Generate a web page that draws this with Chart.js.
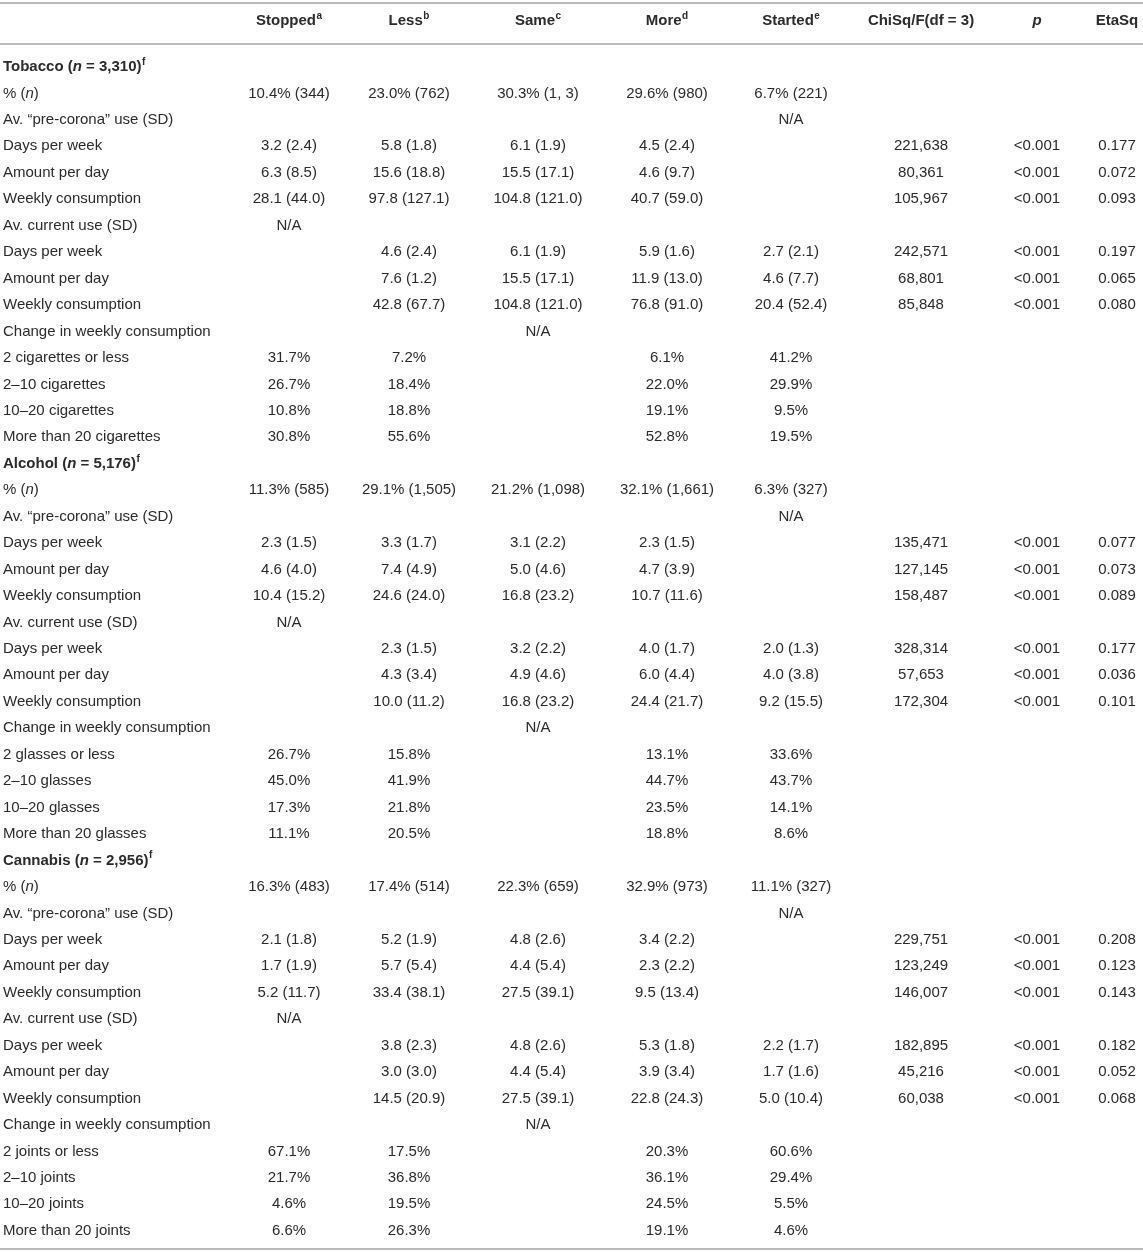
<!DOCTYPE html>
<html lang="en">

<head>
    <meta charset="UTF-8" />
    <title>Change in substance use</title>
    <script src="https://cdn.jsdelivr.net/npm/chart.js"></script>
    <style>
        body {
            margin: 0;
            background: #fff;
        }

        #wrap {
            width: 1143px;
            height: 1253px;
        }
    </style>
</head>

<body>
    <div id="wrap"><canvas id="tableChart" width="1143" height="1253"></canvas></div>

    <script>
        // markup: _x_ = italic, ^x = superscript character
        const columnHeads = ['Stopped^a', 'Less^b', 'Same^c', 'More^d', 'Started^e', 'ChiSq/F(df = 3)', '_p_', 'EtaSq'];

        const tobaccoLabels = ['Tobacco (_n_ = 3,310)^f', '% (_n_)', 'Av. “pre-corona” use (SD)', 'Days per week', 'Amount per day',
            'Weekly consumption', 'Av. current use (SD)', 'Days per week', 'Amount per day', 'Weekly consumption',
            'Change in weekly consumption', '2 cigarettes or less', '2–10 cigarettes', '10–20 cigarettes', 'More than 20 cigarettes'];
        const tobaccoCells = [
            ['', '', '', '', '', '', '', ''],
            ['10.4% (344)', '23.0% (762)', '30.3% (1, 3)', '29.6% (980)', '6.7% (221)', '', '', ''],
            ['', '', '', '', 'N/A', '', '', ''],
            ['3.2 (2.4)', '5.8 (1.8)', '6.1 (1.9)', '4.5 (2.4)', '', '221,638', '<0.001', '0.177'],
            ['6.3 (8.5)', '15.6 (18.8)', '15.5 (17.1)', '4.6 (9.7)', '', '80,361', '<0.001', '0.072'],
            ['28.1 (44.0)', '97.8 (127.1)', '104.8 (121.0)', '40.7 (59.0)', '', '105,967', '<0.001', '0.093'],
            ['N/A', '', '', '', '', '', '', ''],
            ['', '4.6 (2.4)', '6.1 (1.9)', '5.9 (1.6)', '2.7 (2.1)', '242,571', '<0.001', '0.197'],
            ['', '7.6 (1.2)', '15.5 (17.1)', '11.9 (13.0)', '4.6 (7.7)', '68,801', '<0.001', '0.065'],
            ['', '42.8 (67.7)', '104.8 (121.0)', '76.8 (91.0)', '20.4 (52.4)', '85,848', '<0.001', '0.080'],
            ['', '', 'N/A', '', '', '', '', ''],
            ['31.7%', '7.2%', '', '6.1%', '41.2%', '', '', ''],
            ['26.7%', '18.4%', '', '22.0%', '29.9%', '', '', ''],
            ['10.8%', '18.8%', '', '19.1%', '9.5%', '', '', ''],
            ['30.8%', '55.6%', '', '52.8%', '19.5%', '', '', '']
        ];

        const alcoholLabels = ['Alcohol (_n_ = 5,176)^f', '% (_n_)', 'Av. “pre-corona” use (SD)', 'Days per week', 'Amount per day',
            'Weekly consumption', 'Av. current use (SD)', 'Days per week', 'Amount per day', 'Weekly consumption',
            'Change in weekly consumption', '2 glasses or less', '2–10 glasses', '10–20 glasses', 'More than 20 glasses'];
        const alcoholCells = [
            ['', '', '', '', '', '', '', ''],
            ['11.3% (585)', '29.1% (1,505)', '21.2% (1,098)', '32.1% (1,661)', '6.3% (327)', '', '', ''],
            ['', '', '', '', 'N/A', '', '', ''],
            ['2.3 (1.5)', '3.3 (1.7)', '3.1 (2.2)', '2.3 (1.5)', '', '135,471', '<0.001', '0.077'],
            ['4.6 (4.0)', '7.4 (4.9)', '5.0 (4.6)', '4.7 (3.9)', '', '127,145', '<0.001', '0.073'],
            ['10.4 (15.2)', '24.6 (24.0)', '16.8 (23.2)', '10.7 (11.6)', '', '158,487', '<0.001', '0.089'],
            ['N/A', '', '', '', '', '', '', ''],
            ['', '2.3 (1.5)', '3.2 (2.2)', '4.0 (1.7)', '2.0 (1.3)', '328,314', '<0.001', '0.177'],
            ['', '4.3 (3.4)', '4.9 (4.6)', '6.0 (4.4)', '4.0 (3.8)', '57,653', '<0.001', '0.036'],
            ['', '10.0 (11.2)', '16.8 (23.2)', '24.4 (21.7)', '9.2 (15.5)', '172,304', '<0.001', '0.101'],
            ['', '', 'N/A', '', '', '', '', ''],
            ['26.7%', '15.8%', '', '13.1%', '33.6%', '', '', ''],
            ['45.0%', '41.9%', '', '44.7%', '43.7%', '', '', ''],
            ['17.3%', '21.8%', '', '23.5%', '14.1%', '', '', ''],
            ['11.1%', '20.5%', '', '18.8%', '8.6%', '', '', '']
        ];

        const cannabisLabels = ['Cannabis (_n_ = 2,956)^f', '% (_n_)', 'Av. “pre-corona” use (SD)', 'Days per week', 'Amount per day',
            'Weekly consumption', 'Av. current use (SD)', 'Days per week', 'Amount per day', 'Weekly consumption',
            'Change in weekly consumption', '2 joints or less', '2–10 joints', '10–20 joints', 'More than 20 joints'];
        const cannabisCells = [
            ['', '', '', '', '', '', '', ''],
            ['16.3% (483)', '17.4% (514)', '22.3% (659)', '32.9% (973)', '11.1% (327)', '', '', ''],
            ['', '', '', '', 'N/A', '', '', ''],
            ['2.1 (1.8)', '5.2 (1.9)', '4.8 (2.6)', '3.4 (2.2)', '', '229,751', '<0.001', '0.208'],
            ['1.7 (1.9)', '5.7 (5.4)', '4.4 (5.4)', '2.3 (2.2)', '', '123,249', '<0.001', '0.123'],
            ['5.2 (11.7)', '33.4 (38.1)', '27.5 (39.1)', '9.5 (13.4)', '', '146,007', '<0.001', '0.143'],
            ['N/A', '', '', '', '', '', '', ''],
            ['', '3.8 (2.3)', '4.8 (2.6)', '5.3 (1.8)', '2.2 (1.7)', '182,895', '<0.001', '0.182'],
            ['', '3.0 (3.0)', '4.4 (5.4)', '3.9 (3.4)', '1.7 (1.6)', '45,216', '<0.001', '0.052'],
            ['', '14.5 (20.9)', '27.5 (39.1)', '22.8 (24.3)', '5.0 (10.4)', '60,038', '<0.001', '0.068'],
            ['', '', 'N/A', '', '', '', '', ''],
            ['67.1%', '17.5%', '', '20.3%', '60.6%', '', '', ''],
            ['21.7%', '36.8%', '', '36.1%', '29.4%', '', '', ''],
            ['4.6%', '19.5%', '', '24.5%', '5.5%', '', '', ''],
            ['6.6%', '26.3%', '', '19.1%', '4.6%', '', '', '']
        ];

        // layout (x in canvas-width units, y in row units)
        const colX = [3, 289, 409, 538, 667, 791, 921, 1037, 1117];
        const headerRow = -1.74;
        const ruleRows = [-2.43, -0.87, 44.69];
        const FONT = '"Liberation Sans", Arial, Helvetica, sans-serif';
        const INK = '#2b2b2b';

        const allLabels = [...tobaccoLabels, ...alcoholLabels, ...cannabisLabels];
        const allCells = [...tobaccoCells, ...alcoholCells, ...cannabisCells];
        const titleRows = [0, tobaccoLabels.length, tobaccoLabels.length + alcoholLabels.length];

        const datasets = [];
        // header row
        datasets.push({
            data: columnHeads.map((t, c) => ({ x: colX[c + 1], y: headerRow, text: t, bold: true })),
            align: 'center'
        });
        // row label column
        datasets.push({
            data: allLabels.map((t, i) => ({ x: colX[0], y: i, text: t, bold: titleRows.includes(i) })),
            align: 'left'
        });
        // value columns
        columnHeads.forEach((h, c) => {
            const pts = [];
            allCells.forEach((row, i) => {
                if (row[c]) pts.push({ x: colX[c + 1], y: i, text: row[c], bold: false });
            });
            datasets.push({ data: pts, align: 'center' });
        });

        function parseRich(str) {
            const parts = [];
            let italic = false, buf = '';
            for (let i = 0; i < str.length; i++) {
                const ch = str[i];
                if (ch === '_') {
                    if (buf) parts.push({ t: buf, italic, sup: false });
                    buf = '';
                    italic = !italic;
                } else if (ch === '^') {
                    if (buf) parts.push({ t: buf, italic, sup: false });
                    buf = '';
                    parts.push({ t: str[++i], italic, sup: true });
                } else {
                    buf += ch;
                }
            }
            if (buf) parts.push({ t: buf, italic, sup: false });
            return parts;
        }

        function drawRich(ctx, str, x, y, align, bold) {
            const parts = parseRich(str);
            const fontFor = p => `${p.italic ? 'italic ' : ''}${bold ? 'bold ' : ''}${p.sup ? 10 : 15}px ${FONT}`;
            let total = 0;
            parts.forEach(p => {
                ctx.font = fontFor(p);
                p.w = ctx.measureText(p.t).width + (p.sup ? 0.5 : 0);
                total += p.w;
            });
            let cx = align === 'left' ? x : x - total / 2;
            parts.forEach(p => {
                ctx.font = fontFor(p);
                ctx.fillText(p.t, cx + (p.sup ? 0.5 : 0), p.sup ? y - 5 : y);
                cx += p.w;
            });
        }

        const tablePlugin = {
            id: 'tableText',
            beforeDatasetsDraw(chart) {
                const { ctx, chartArea, scales } = chart;
                ctx.save();
                ctx.strokeStyle = '#b8b8b8';
                ctx.lineWidth = 2;
                ruleRows.forEach(r => {
                    const py = Math.round(scales.y.getPixelForValue(r));
                    ctx.beginPath();
                    ctx.moveTo(chartArea.left, py);
                    ctx.lineTo(chartArea.right, py);
                    ctx.stroke();
                });
                ctx.restore();
            },
            afterDatasetsDraw(chart) {
                const ctx = chart.ctx;
                ctx.save();
                ctx.fillStyle = INK;
                ctx.textBaseline = 'middle';
                ctx.textAlign = 'left';
                chart.data.datasets.forEach((ds, d) => {
                    const meta = chart.getDatasetMeta(d);
                    meta.data.forEach((el, k) => {
                        const pt = ds.data[k];
                        drawRich(ctx, pt.text, el.x, el.y, ds.align, pt.bold);
                    });
                });
                ctx.restore();
            }
        };

        new Chart(document.getElementById('tableChart'), {
            type: 'scatter',
            data: { datasets },
            options: {
                responsive: false,
                devicePixelRatio: 1,
                animation: false,
                events: [],
                elements: { point: { radius: 0, hoverRadius: 0 } },
                layout: { padding: 0 },
                plugins: {
                    legend: { display: false },
                    tooltip: { enabled: false }
                },
                scales: {
                    x: { type: 'linear', display: false, min: 0, max: 1143 },
                    y: { type: 'linear', display: false, reverse: true, min: -2.533, max: 44.839 }
                }
            },
            plugins: [tablePlugin]
        });
    </script>
</body>

</html>
